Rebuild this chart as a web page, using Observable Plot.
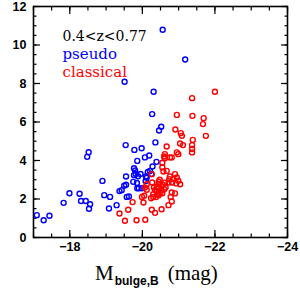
<!DOCTYPE html>
<html><head><meta charset="utf-8">
<script src="https://cdn.jsdelivr.net/npm/d3@7"></script>
<script src="https://cdn.jsdelivr.net/npm/@observablehq/plot@0.6"></script>
<style>body{margin:0;background:#fff}#chart{width:300px;height:292px}</style>
</head><body><div id="chart"></div>
<script>
const pseudo = [
[-17.09,1.16],[-17.28,0.90],[-17.44,1.13],[-17.83,1.80],[-17.99,2.30],[-18.27,2.27],[-18.31,1.90],[-18.44,1.90],[-18.56,1.73],[-18.53,1.49],
[-18.48,4.19],[-18.52,4.43],[-18.90,2.94],[-18.95,2.20],[-19.11,2.11],[-19.08,1.51],[-19.29,1.68],[-19.37,2.41],[-19.43,2.46],[-19.50,2.69],
[-19.55,2.74],[-19.55,3.17],[-19.57,2.11],[-19.63,2.13],[-19.51,8.09],[-19.54,4.80],[-19.78,4.55],[-19.98,4.64],[-19.86,3.98],[-19.77,3.60],
[-19.80,3.48],[-19.77,3.24],[-19.82,3.30],[-19.88,3.18],[-19.75,2.89],[-19.85,2.83],[-19.86,2.56],[-19.90,2.56],[-19.95,3.30],[-19.98,2.56],
[-20.07,4.16],[-20.19,4.26],[-20.10,3.17],[-20.09,2.94],[-20.15,3.40],[-20.21,3.46],[-20.28,3.69],[-20.27,6.41],[-20.31,7.57],[-20.36,4.94],
[-20.39,3.93],[-20.46,5.56],[-20.52,5.75],[-20.56,10.79],[-21.18,9.25],[-20.12,3.10],[-20.25,3.30]
];
const classical = [
[-22.00,7.57],[-21.37,7.24],[-20.95,6.37],[-21.38,6.32],[-21.69,6.20],[-21.67,5.89],[-20.91,5.61],[-21.06,5.42],[-21.09,5.28],[-21.75,5.28],
[-21.39,5.07],[-21.04,4.88],[-21.12,4.80],[-21.37,4.80],[-21.37,4.60],[-21.37,4.42],[-20.67,4.73],[-20.95,4.42],[-20.99,4.33],[-20.62,4.33],
[-20.60,4.21],[-20.62,4.12],[-20.76,4.16],[-20.81,4.16],[-20.55,3.88],[-20.55,3.65],[-20.58,3.43],[-20.67,3.46],[-20.26,3.29],[-20.90,3.29],
[-20.76,3.17],[-20.95,3.12],[-20.85,3.03],[-20.74,3.03],[-20.99,2.95],[-21.04,2.77],[-20.93,2.81],[-20.72,2.86],[-20.82,2.86],[-20.64,2.60],
[-20.60,2.51],[-20.56,2.74],[-20.48,3.00],[-20.47,2.78],[-20.45,2.55],[-20.52,2.45],[-20.40,2.40],[-20.35,2.47],[-20.42,2.25],[-20.30,2.25],
[-20.38,2.10],[-20.45,2.20],[-20.50,2.35],[-20.55,2.30],[-20.27,2.86],[-20.32,2.60],[-20.12,2.77],[-20.07,2.60],[-20.12,2.48],[-20.24,2.04],
[-20.30,2.11],[-20.05,2.17],[-20.03,1.82],[-20.81,2.34],[-20.90,2.29],[-20.78,2.11],[-20.81,1.87],[-20.72,1.68],[-20.53,1.47],[-20.26,1.44],
[-20.35,1.28],[-20.08,0.92],[-19.99,2.11],[-19.73,1.84],[-19.61,1.44],[-19.37,1.25],[-19.52,0.87],[-19.84,0.90],[-20.45,2.90],[-20.62,2.85],[-20.40,2.65]
];
const xMajor = [-18,-20,-22,-24];
const xMinor = [-17,-17.5,-18,-18.5,-19,-19.5,-20,-20.5,-21,-21.5,-22,-22.5,-23,-23.5,-24];
const yMajor = [0,2,4,6,8,10,12];
const yMinor = [0,0.5,1,1.5,2,2.5,3,3.5,4,4.5,5,5.5,6,6.5,7,7.5,8,8.5,9,9.5,10,10.5,11,11.5,12];
const legendLines = [["0.4<z<0.77","#000"],["pseudo","#0000ff"],["classical","#ff0000"]];
const xLabel = ["M","bulge,B","(mag)"];

const blank = () => "";
const serif = "'DejaVu Serif',serif";
const plot = Plot.plot({
  width:300, height:292,
  marginLeft:33, marginRight:13, marginTop:6, marginBottom:55,
  x:{domain:[-17,-24]}, y:{domain:[0,12]},
  style:{fontFamily:"'Liberation Sans',Arial,sans-serif", fontSize:"12.5px", color:"#000", background:"#fff"},
  marks:[
    Plot.axisX(xMinor,{anchor:"bottom", tickSize:-3.5, tickFormat:blank, label:null, strokeWidth:1.2}),
    Plot.axisX(xMinor,{anchor:"top", tickSize:-3.5, tickFormat:blank, label:null, strokeWidth:1.2}),
    Plot.axisX(xMajor,{anchor:"bottom", tickSize:-7, tickFormat:blank, label:null, strokeWidth:1.2}),
    Plot.axisX(xMajor,{anchor:"top", tickSize:-7, tickFormat:blank, label:null, strokeWidth:1.2}),
    Plot.axisX(xMajor,{anchor:"bottom", tickSize:0, tickPadding:5, label:null, fontWeight:"bold"}),
    Plot.axisY(yMinor,{anchor:"left", tickSize:-3.5, tickFormat:blank, label:null, strokeWidth:1.2}),
    Plot.axisY(yMinor,{anchor:"right", tickSize:-3.5, tickFormat:blank, label:null, strokeWidth:1.2}),
    Plot.axisY(yMajor,{anchor:"left", tickSize:-7, tickFormat:blank, label:null, strokeWidth:1.2}),
    Plot.axisY(yMajor,{anchor:"right", tickSize:-7, tickFormat:blank, label:null, strokeWidth:1.2}),
    Plot.axisY(yMajor,{anchor:"left", tickSize:0, tickPadding:7, label:null, fontWeight:"bold"}),
    Plot.frame({strokeWidth:1.6}),
    Plot.dot(pseudo,{x:d=>d[0], y:d=>d[1], r:2.5, stroke:"#0000ff", strokeWidth:1.4}),
    Plot.dot(classical,{x:d=>d[0], y:d=>d[1], r:2.5, stroke:"#ff0000", strokeWidth:1.4}),
    Plot.text([legendLines[0]],{text:d=>d[0], fill:d=>d[1], frameAnchor:"top-left", dx:29, dy:34, textAnchor:"start", lineAnchor:"bottom", fontFamily:serif, fontSize:14}),
    Plot.text([legendLines[1]],{text:d=>d[0], fill:d=>d[1], frameAnchor:"top-left", dx:29, dy:52, textAnchor:"start", lineAnchor:"bottom", fontFamily:serif, fontSize:15}),
    Plot.text([legendLines[2]],{text:d=>d[0], fill:d=>d[1], frameAnchor:"top-left", dx:29, dy:70, textAnchor:"start", lineAnchor:"bottom", fontFamily:serif, fontSize:15})
  ]
});
document.getElementById("chart").appendChild(plot);
const svg = d3.select(plot);
const t = svg.append("text").attr("x",95).attr("y",280).attr("fill","#000").attr("text-anchor","start");
t.append("tspan").text(xLabel[0]).attr("font-family","'Liberation Serif',serif").attr("font-size",21);
t.append("tspan").text(xLabel[1]).attr("font-family","'Liberation Sans',Arial,sans-serif").attr("font-weight","bold").attr("font-size",12).attr("dy",5).attr("dx",1);
t.append("tspan").text(xLabel[2]).attr("font-family","'Liberation Serif',serif").attr("font-size",21).attr("dy",-5).attr("dx",9);
</script>
</body></html>
